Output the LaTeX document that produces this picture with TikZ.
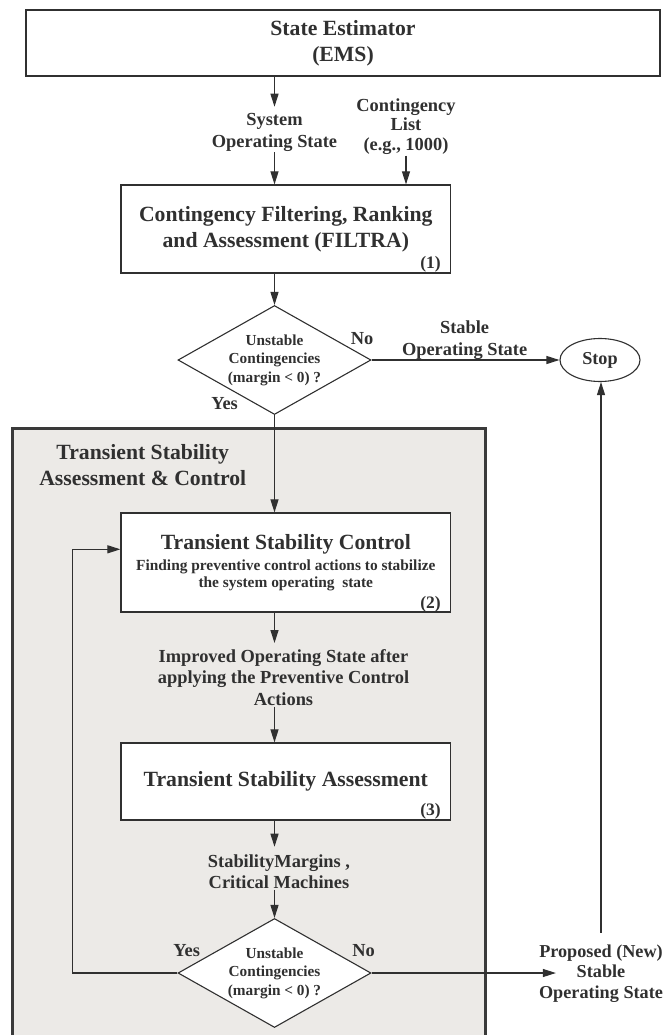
\documentclass[tikz,border=0pt]{standalone}
\usepackage{fontspec}
\setmainfont{Liberation Serif}
\usetikzlibrary{shapes.geometric,arrows.meta}
\definecolor{ink}{RGB}{48,48,48}
\definecolor{panel}{RGB}{236,234,231}
\definecolor{panelline}{RGB}{58,58,58}
\begin{document}
\begin{tikzpicture}[x=1pt,y=-1pt,
  every node/.style={text=ink},
  arr/.style={draw=ink, line width=1.1pt, -{Triangle[length=13pt,width=8pt]}},
  boxnode/.style={draw=ink, line width=1.2pt, fill=white, inner sep=0pt, align=center},
  bigf/.style={font=\fontsize{21.7}{26}\selectfont\bfseries},
  lblf/.style={font=\fontsize{18.4}{21.5}\selectfont\bfseries, align=center, inner sep=1pt},
  numf/.style={font=\fontsize{17.5}{20}\selectfont\bfseries, inner sep=0pt, anchor=base east},
  decision/.style={diamond, draw=ink, line width=1.1pt, minimum width=193pt, minimum height=109pt, aspect=1.77, inner sep=0pt, align=center, font=\fontsize{15.3}{18.5}\selectfont\bfseries}
]
\useasboundingbox (0,0) rectangle (665,1035);

% panel
\node[draw=panelline, line width=3pt, fill=panel, minimum width=473pt, minimum height=620pt, anchor=north west, inner sep=0pt] (panel) at (10.7,426.5) {};
\node[bigf, align=center, inner sep=0pt] (ttl) at (142.8,464.7) {Transient Stability\\Assessment \& Control};

% boxes
\node[boxnode, line width=2pt, minimum width=634pt, minimum height=65.5pt, bigf] (est) at (343,43.25) {State Estimator\\(EMS)};
\node[boxnode, minimum width=329.6pt, minimum height=88pt, bigf] (filt) at (285.8,229) {Contingency Filtering, Ranking\\and Assessment (FILTRA)};
\node[numf] (n1) at (441,268) {(1)};

\node[boxnode, minimum width=329.6pt, minimum height=99pt, font=\fontsize{15.4}{17}\selectfont\bfseries] (box2) at (285.8,562.5) {{\fontsize{21.7}{21.7}\selectfont Transient Stability Control}\\[4pt]Finding preventive control actions to stabilize\\the system operating\ \ state};
\node[numf] (n2) at (441,608) {(2)};

\node[boxnode, minimum width=329.6pt, minimum height=77pt, bigf] (box3) at (285.8,781.5) {Transient Stability Assessment};
\node[numf] (n3) at (441,815) {(3)};

% decisions
\node[decision] (d1) at (274.5,360) {Unstable\\Contingencies\\(margin < 0) ?};
\node[decision, fill=white] (d2) at (274.5,973) {Unstable\\Contingencies\\(margin < 0) ?};

\node[draw=ink, line width=1.1pt, ellipse, minimum width=80pt, minimum height=43pt, inner sep=0pt, font=\fontsize{18.2}{20}\selectfont\bfseries] (stop) at (600,360) {Stop};

% labels
\node[lblf] (sys) at (274.5,132.3) {System\\Operating State};
\node[lblf, font=\fontsize{18.4}{19.5}\selectfont\bfseries] (cont) at (406,126.6) {Contingency\\List\\(e.g., 1000)};
\node[lblf] (no1) at (362,339) {No};
\node[lblf] (yes1) at (224.6,404) {Yes};
\node[lblf, font=\fontsize{18.4}{22}\selectfont\bfseries] (stab) at (464.6,339.8) {Stable\\Operating State};
\node[lblf] (imp) at (283.5,677.3) {Improved Operating State after\\applying the Preventive Control\\Actions};
\node[lblf, font=\fontsize{18.4}{21}\selectfont\bfseries] (marg) at (279,871.4) {StabilityMargins ,\\Critical Machines};
\node[lblf] (yes2) at (186.7,951) {Yes};
\node[lblf] (no2) at (363.6,951) {No};
\node[lblf, font=\fontsize{18.2}{20.8}\selectfont\bfseries] (prop) at (601,973.5) {Proposed (New)\\Stable\\Operating State};

\coordinate (fb) at (72.5,549.3);

% connectors
\draw[arr, shorten >=5.5pt] (est.south -| sys.north) -- (sys.north);
\draw[arr] (sys.south) -- (sys.south |- filt.north);
\draw[arr] (cont.south) -- (cont.south |- filt.north);
\draw[arr] (filt.south -| d1.north) -- (d1.north);
\draw[arr] (d1.east) -- (stop.west);
\draw[arr] (d1.south) -- (d1.south |- box2.north);
\draw[arr, shorten >=5pt] (box2.south -| d1.south) -- (imp.north -| d1.south);
\draw[arr] (imp.south -| d1.south) -- (box3.north -| d1.south);
\draw[arr, shorten >=6.5pt] (box3.south -| d1.south) -- (marg.north -| d1.south);
\draw[arr] (marg.south -| d1.south) -- (d2.north);
\draw[arr] (d2.west) -| (fb) -- (box2.west |- fb);
\draw[arr, shorten >=-18pt] (d2.east) -- (prop.west |- d2.east);
\draw[arr, shorten <=10.5pt] (prop.north) -- (prop.north |- stop.south);
\end{tikzpicture}
\end{document}
